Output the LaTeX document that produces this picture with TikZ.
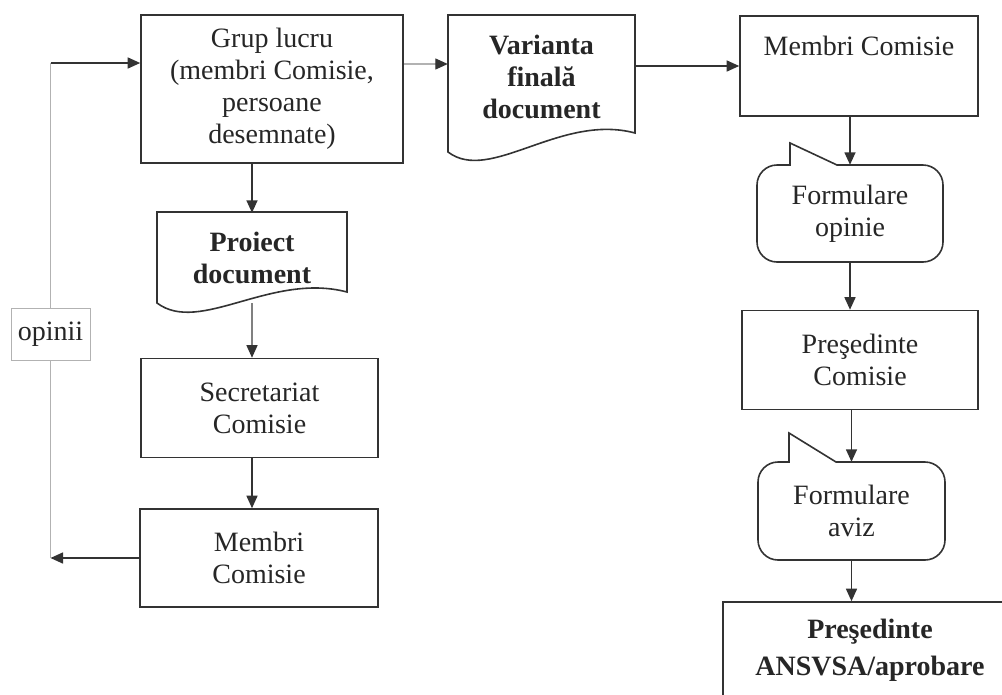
\documentclass[tikz,border=0pt]{standalone}
\usepackage{fontspec}
\setmainfont{Liberation Serif}
\usetikzlibrary{arrows.meta,calc}
\newcommand\docshape[5]{% L T R Bl Br
  \draw[shp] (#1,#4) -- (#1,#2) -- (#3,#2) -- (#3,#5)
    .. controls ({#1+0.6*(#3-#1)},{#5-20}) and ({#1+0.225*(#3-#1)},{#4+32}) .. (#1,#4) -- cycle;}
\newcommand\calloutshape[6]{% L T R B px tipy
  \draw[shp] (#5,#2) -- (#5,#6) -- ({#5+47},#2) -- ({#3-20},#2)
    .. controls ({#3-9},#2) and (#3,{#2+9}) .. (#3,{#2+20}) -- (#3,{#4-20})
    .. controls (#3,{#4-9}) and ({#3-9},#4) .. ({#3-20},#4) -- ({#1+20},#4)
    .. controls ({#1+9},#4) and (#1,{#4-9}) .. (#1,{#4-20}) -- (#1,{#2+20})
    .. controls (#1,{#2+9}) and ({#1+9},#2) .. ({#1+20},#2) -- cycle;}
\begin{document}
\begin{tikzpicture}[x=1pt,y=-1pt,
  every node/.style={font=\fontsize{28}{32}\selectfont, text=black!85, inner sep=0pt, align=center},
  box/.style={draw=black!80, line width=1.6pt, rectangle},
  shp/.style={draw=black!80, line width=1.6pt},
  tip/.style={-{Triangle[length=12.5pt,width=11pt,color=black!80]}},
  arr/.style={draw=black!80, line width=1.5pt, tip},
  grayarr/.style={draw=black!50, line width=1.3pt, tip},
  lightarr/.style={draw=black!30, line width=1.3pt, tip},
  lightline/.style={draw=black!30, line width=1.6pt},
  bold/.style={font=\fontsize{28}{32}\selectfont\bfseries}
]
\useasboundingbox (0,0) rectangle (1002,694);
\clip (0,0) rectangle (1002,694);
\fill[white] (0,0) rectangle (1002,694);

% left column
\node[box, minimum width=262pt, minimum height=148pt] (grup) at (272,89)
  {Grup lucru\\(membri Comisie,\\persoane\\desemnate)};
\docshape{157}{212}{347}{303}{292}
\node[bold, minimum width=190pt, minimum height=90pt] (proiect) at (252,258) {Proiect\\document};
\node[box, minimum width=237pt, minimum height=99pt] (secr) at (259.5,408) {Secretariat\\Comisie};
\node[box, minimum width=238pt, minimum height=98pt] (membri1) at (259,558) {Membri\\Comisie};
\node[draw=black!30, line width=1pt, fill=white, minimum width=79pt, minimum height=52pt] (opinii) at (50.5,334) {opinii};
\coordinate (topin) at ([yshift=26pt]grup.west);

% middle
\docshape{448}{15}{635}{152}{133}
\node[bold, minimum width=187pt, minimum height=120pt] (var) at (541.5,77) {Varianta\\finală\\document};

% right column
\node[box, minimum width=238pt, text height=39pt, text depth=61pt] (membri2) at (859,66) {Membri Comisie};
\calloutshape{757}{165}{943}{262}{790}{143}
\node[minimum width=186pt, minimum height=97pt] (opinie) at (850,213.5) {Formulare\\opinie};
\node[box, minimum width=236pt, minimum height=99pt] (pres) at (860,360) {Preşedinte\\Comisie};
\calloutshape{758}{462}{945}{560}{789}{433}
\node[minimum width=187pt, minimum height=98pt] (aviz) at (851.5,511) {Formulare\\aviz};
\node[box, bold, minimum width=294pt, minimum height=96pt] (final) at (870,650) {Preşedinte\\[5pt]ANSVSA/aprobare};

% connectors
\draw[lightarr] ([yshift=25pt]grup.east) -- ([yshift=25pt]grup.east -| var.west);
\draw[arr] (var.east |- membri2.west) -- (membri2.west);
\draw[arr] (opinie.north |- membri2.south) -- (opinie.north);
\draw[arr] (opinie.south) -- (opinie.south |- pres.north);
\draw[arr] (aviz.north |- pres.south) -- (aviz.north);
\draw[arr] (aviz.south) -- (aviz.south |- final.north);
\draw[arr] (proiect.north |- grup.south) -- (proiect.north);
\draw[grayarr] (proiect.south) -- (proiect.south |- secr.north);
\draw[arr] (proiect.south |- secr.south) -- (proiect.south |- membri1.north);
\draw[arr] (membri1.west) -- (membri1.west -| opinii.south);
\draw[lightline] (membri1.west -| opinii.south) -- (opinii.south);
\draw[lightline] (opinii.north) -- (opinii.north |- topin);
\draw[arr] (opinii.north |- topin) -- (topin);
\end{tikzpicture}
\end{document}
